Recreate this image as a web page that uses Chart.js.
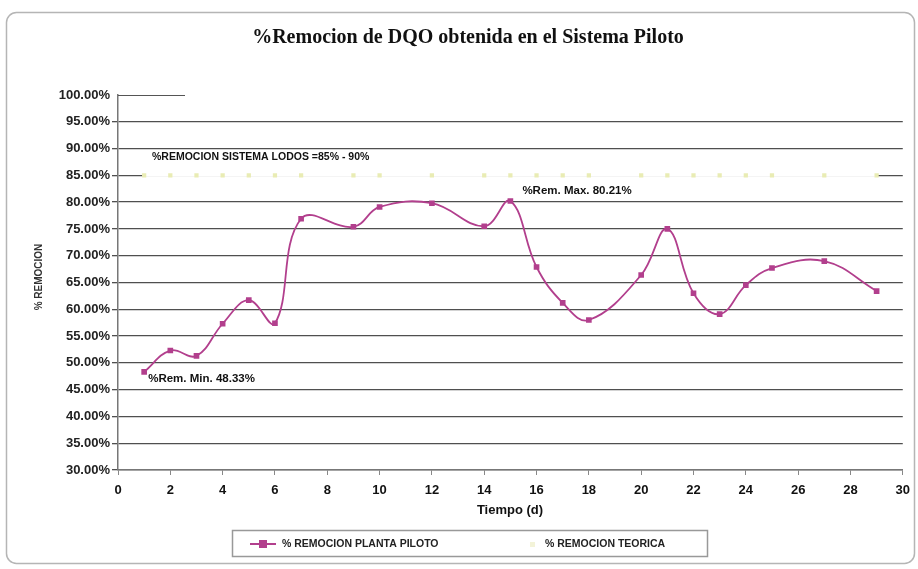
<!DOCTYPE html>
<html><head><meta charset="utf-8">
<script src="https://cdn.jsdelivr.net/npm/chart.js@4"></script>
<style>
html,body{margin:0;padding:0;background:#fff}
#wrap{width:918px;height:569px;position:relative}
</style>
</head><body>
<div id="wrap"><canvas id="c" width="918" height="569"></canvas></div>
<script>
// Días de muestreo (d)
const dias = [1, 2, 3, 4, 5, 6, 7, 9, 10, 12, 14, 15, 16, 17, 18, 20, 21, 22, 23, 24, 25, 27, 29];
// % de remoción de DQO medido en la planta piloto
const remocionPiloto = [48.33, 52.3, 51.3, 57.3, 61.7, 57.4, 76.9, 75.4, 79.1, 79.8, 75.5, 80.21, 67.9, 61.2, 58.0, 66.4, 75.0, 63.0, 59.1, 64.5, 67.7, 69.0, 63.4];
// % de remoción teórico de un sistema de lodos activados
const remocionTeorica = [85, 85, 85, 85, 85, 85, 85, 85, 85, 85, 85, 85, 85, 85, 85, 85, 85, 85, 85, 85, 85, 85, 85];
// Ejes
const ejeX = { min: 0, max: 30, paso: 2 };
const ejeY = { min: 30, max: 100, paso: 5 };

const colorPiloto = '#b23f8d';
const fuente = "'Liberation Sans', Arial, sans-serif";
const fuenteAngosta = "'Liberation Sans Narrow', 'Liberation Sans', Arial, sans-serif";

const puntos = (xs, ys) => xs.map((x, i) => ({ x: x, y: ys[i] }));

const decoracion = {
  id: 'decoracion',
  beforeDraw(chart) {
    const ctx = chart.ctx;
    ctx.save();
    ctx.fillStyle = '#fff';
    ctx.fillRect(0, 0, chart.width, chart.height);
    // marco exterior
    ctx.strokeStyle = '#b5b5b5';
    ctx.lineWidth = 1.5;
    ctx.beginPath();
    ctx.roundRect(6.5, 12.5, 908, 551, 10);
    ctx.stroke();
    ctx.restore();
  },
  afterDraw(chart) {
    const ctx = chart.ctx;
    const xs = chart.scales.x, ys = chart.scales.y;
    const ca = chart.chartArea;
    ctx.save();
    // línea corta del 100 %
    ctx.strokeStyle = '#555';
    ctx.lineWidth = 1;
    ctx.beginPath();
    ctx.moveTo(ca.left, ys.getPixelForValue(100) + 0.5);
    ctx.lineTo(ca.left + 67, ys.getPixelForValue(100) + 0.5);
    ctx.stroke();

    // título
    ctx.fillStyle = '#111';
    ctx.textAlign = 'center';
    ctx.textBaseline = 'middle';
    ctx.font = "bold 20px 'Liberation Serif', 'Times New Roman', serif";
    ctx.fillText('%Remocion de DQO obtenida en el Sistema Piloto', 468, 38);

    // título eje Y
    ctx.save();
    ctx.translate(39, 277);
    ctx.rotate(-Math.PI / 2);
    ctx.font = 'bold 10px ' + fuente;
    ctx.fillStyle = '#333';
    ctx.fillText('% REMOCION', 0, 0);
    ctx.restore();

    // título eje X
    ctx.font = 'bold 13px ' + fuenteAngosta;
    ctx.fillStyle = '#111';
    ctx.fillText('Tiempo (d)', 510, 510);

    // anotaciones
    ctx.textAlign = 'left';
    ctx.font = 'bold 10.5px ' + fuente;
    ctx.fillText('%REMOCION SISTEMA LODOS =85% - 90%', 152, 157);
    ctx.font = 'bold 11.5px ' + fuente;
    const iMax = remocionPiloto.indexOf(Math.max(...remocionPiloto));
    const iMin = remocionPiloto.indexOf(Math.min(...remocionPiloto));
    ctx.fillText('%Rem. Max. ' + remocionPiloto[iMax].toFixed(2) + '%',
      xs.getPixelForValue(dias[iMax]) + 12, ys.getPixelForValue(remocionPiloto[iMax]) - 10);
    ctx.fillText('%Rem. Min. ' + remocionPiloto[iMin].toFixed(2) + '%',
      xs.getPixelForValue(dias[iMin]) + 4, ys.getPixelForValue(remocionPiloto[iMin]) + 7);

    // leyenda
    ctx.strokeStyle = '#999';
    ctx.lineWidth = 1.5;
    ctx.strokeRect(232.5, 530.5, 475, 26);
    ctx.strokeStyle = colorPiloto;
    ctx.lineWidth = 2;
    ctx.beginPath();
    ctx.moveTo(250, 544); ctx.lineTo(276, 544);
    ctx.stroke();
    ctx.fillStyle = colorPiloto;
    ctx.fillRect(259, 540, 8, 8);
    ctx.fillStyle = '#222';
    ctx.font = 'bold 10.5px ' + fuente;
    ctx.textBaseline = 'middle';
    ctx.fillText('% REMOCION PLANTA PILOTO', 282, 544);
    ctx.fillStyle = '#f3f3d8';
    ctx.fillRect(530, 542, 5, 5);
    ctx.fillStyle = '#222';
    ctx.fillText('% REMOCION TEORICA', 545, 544);
    ctx.restore();
  }
};

new Chart(document.getElementById('c'), {
  type: 'line',
  data: {
    datasets: [
      {
        label: '% REMOCION PLANTA PILOTO',
        data: puntos(dias, remocionPiloto),
        borderColor: colorPiloto,
        backgroundColor: colorPiloto,
        borderWidth: 1.8,
        tension: 0.4,
        pointStyle: 'rect',
        pointRadius: 4,
        pointBorderWidth: 0,
        order: 1
      },
      {
        label: '% REMOCION TEORICA',
        data: puntos(dias, remocionTeorica),
        borderColor: '#ffffff',
        backgroundColor: '#e9ecb4',
        borderWidth: 3,
        tension: 0,
        pointStyle: 'rect',
        pointRadius: 3,
        pointBorderWidth: 0,
        order: 2
      }
    ]
  },
  options: {
    responsive: false,
    animation: false,
    devicePixelRatio: 1,
    layout: { padding: { top: 95, right: 15, bottom: 69, left: 0 } },
    plugins: { legend: { display: false }, tooltip: { enabled: false } },
    scales: {
      x: {
        type: 'linear',
        min: ejeX.min, max: ejeX.max,
        afterFit(s) { s.height = 30; },
        ticks: { stepSize: ejeX.paso, color: '#111', font: { family: fuenteAngosta, size: 13, weight: 'bold' }, padding: 8, maxRotation: 0 },
        grid: { drawOnChartArea: false, drawTicks: true, tickLength: 5, color: '#888' },
        border: { display: true, color: '#777', width: 1.5 }
      },
      y: {
        min: ejeY.min, max: ejeY.max,
        afterFit(s) { s.width = 118; },
        ticks: {
          stepSize: ejeY.paso, color: '#222', padding: 2,
          font: { family: fuente, size: 13, weight: 'bold' },
          callback: v => v.toFixed(2) + '%'
        },
        grid: {
          color: ctx => (ctx.tick && ctx.tick.value === 100 ? 'rgba(0,0,0,0)' : '#4f4f4f'),
          lineWidth: 1.3,
          tickLength: 6
        },
        border: { display: true, color: '#777', width: 1.5 }
      }
    }
  },
  plugins: [decoracion]
});
</script>
</body></html>
